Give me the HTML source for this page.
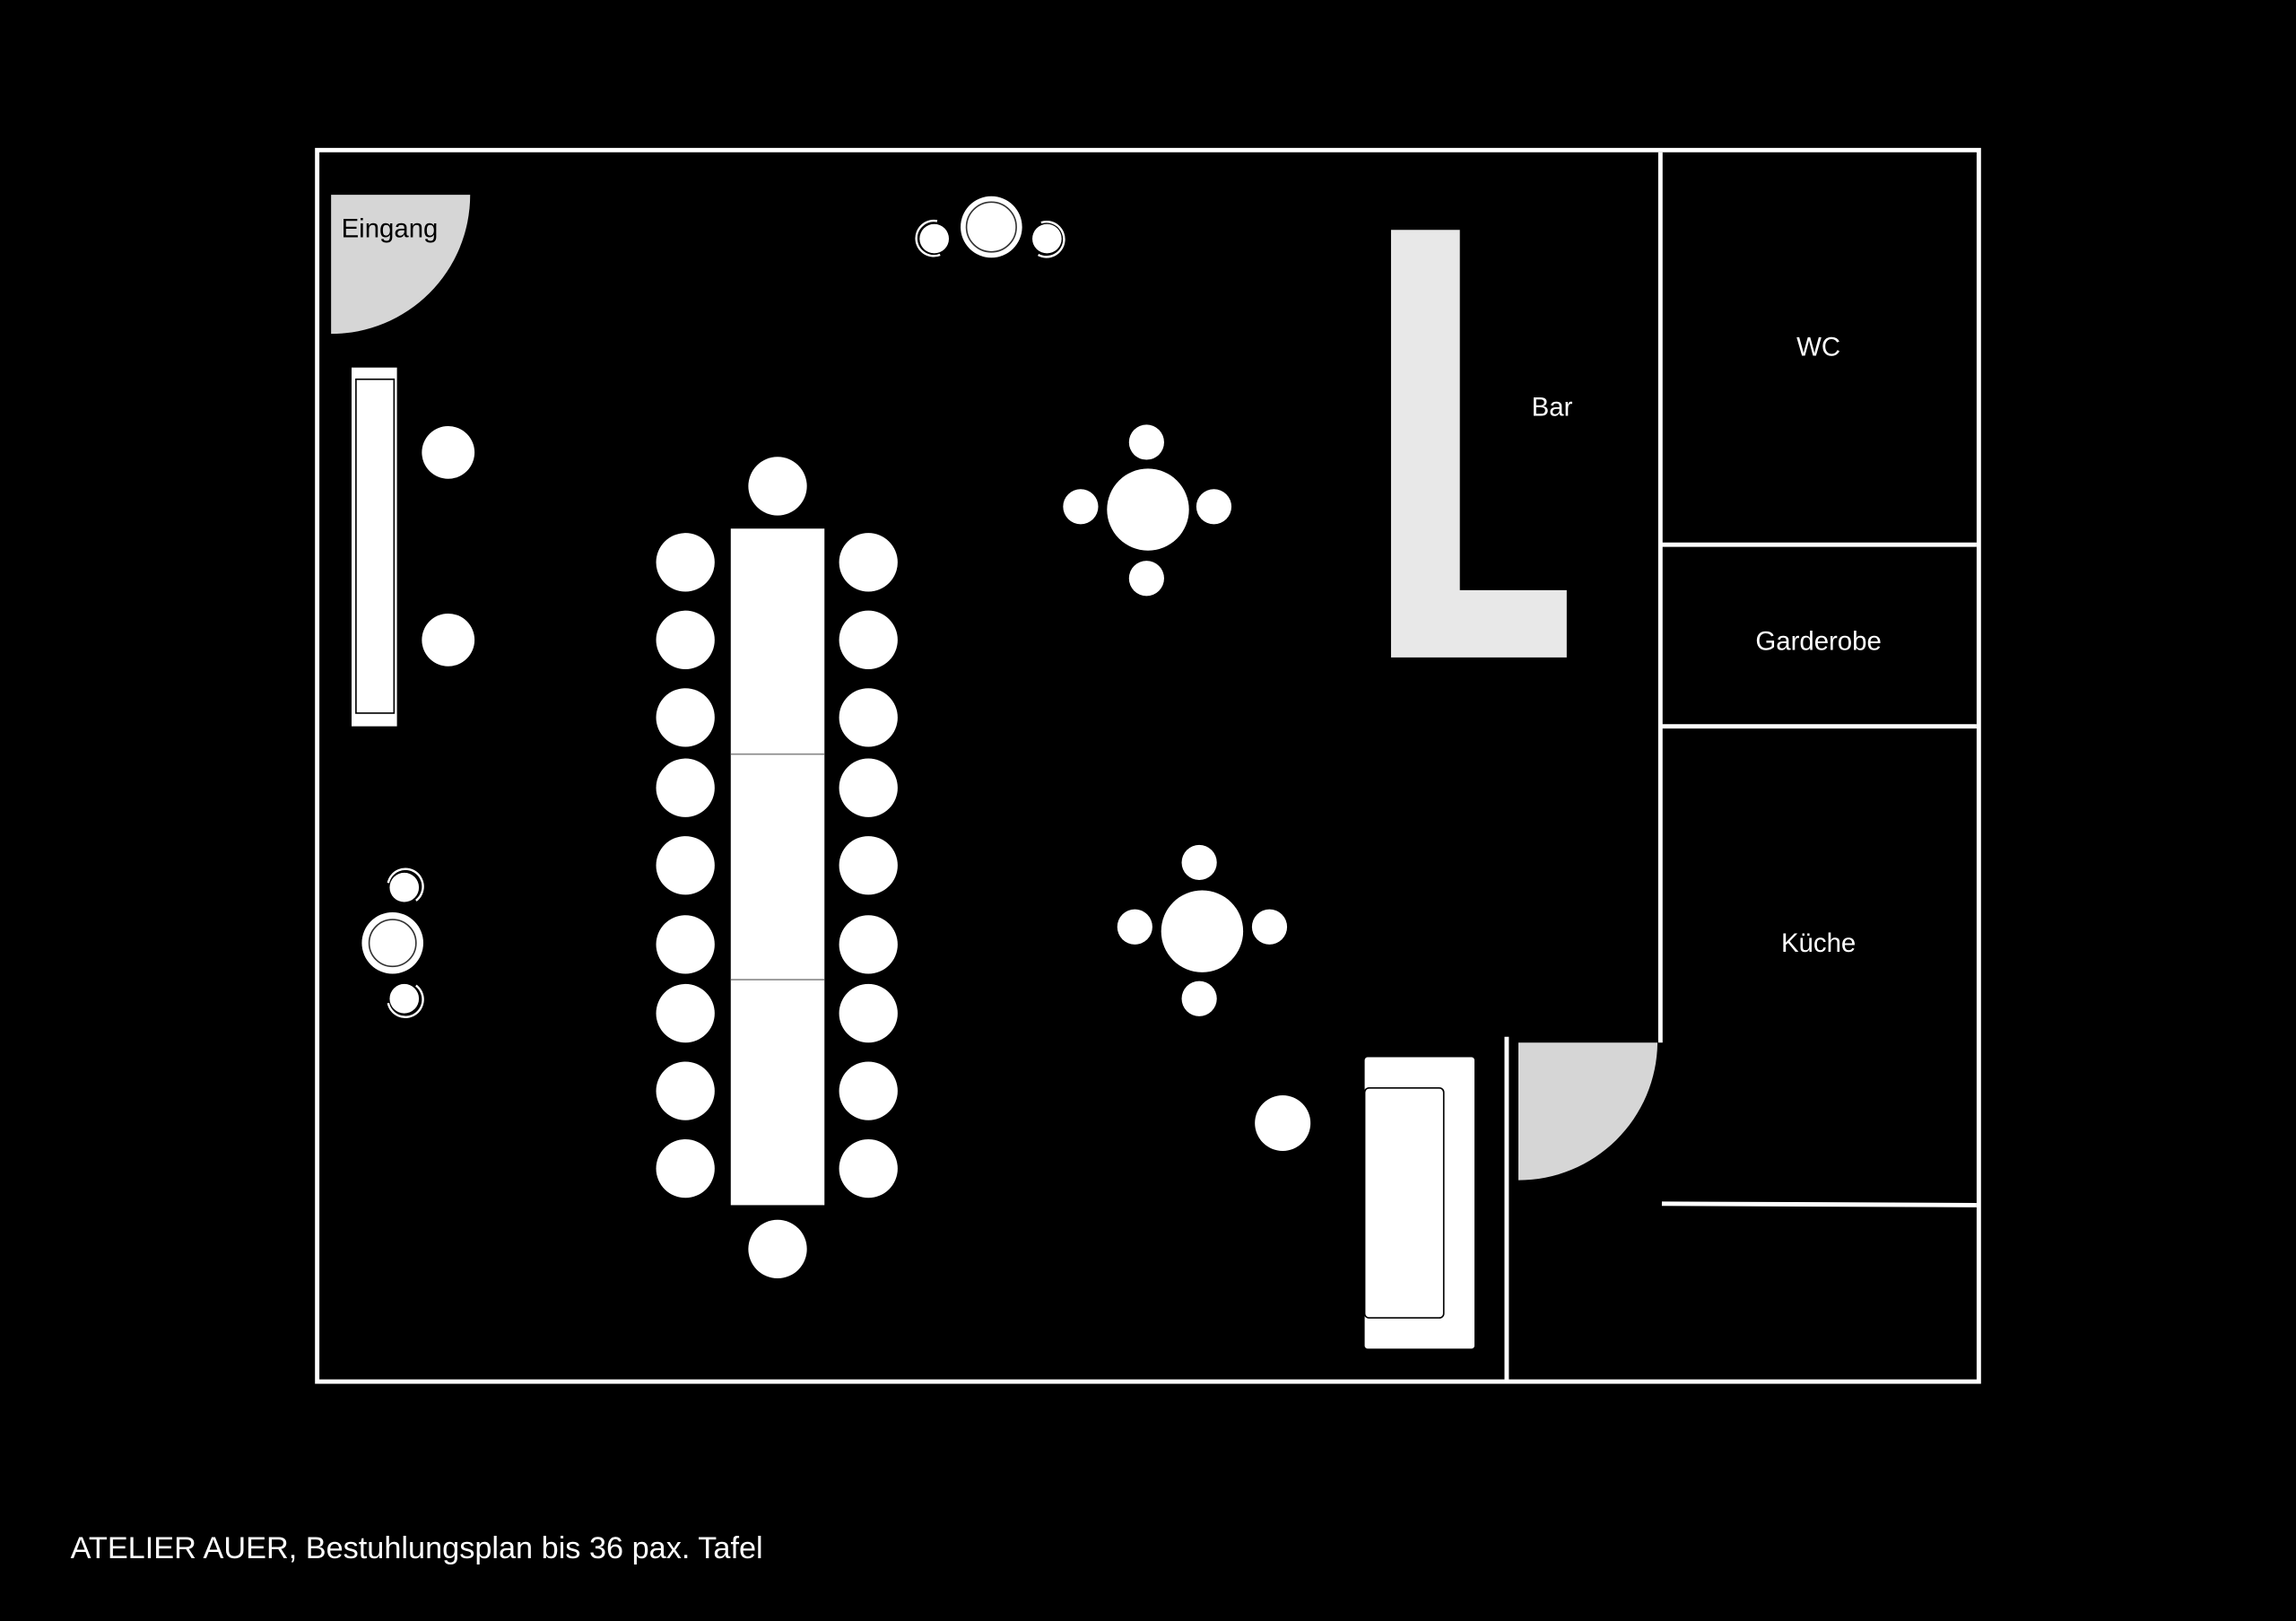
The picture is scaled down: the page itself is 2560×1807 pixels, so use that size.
<!DOCTYPE html>
<html><head><meta charset="utf-8"><style>
html,body{margin:0;padding:0;background:#000;width:2560px;height:1807px;overflow:hidden}
svg{display:block}
text{font-family:"Liberation Sans",sans-serif}
</style></head><body>
<svg width="2560" height="1807" viewBox="0 0 1568 1107" xmlns="http://www.w3.org/2000/svg">
<rect width="1568" height="1107" fill="#000"/>
<rect x="216.5" y="102.5" width="1135" height="841" fill="none" stroke="#fff" stroke-width="3"/>
<g stroke="#fff" stroke-width="3">
<line x1="1134" y1="104" x2="1134" y2="712"/>
<line x1="1135" y1="372" x2="1350" y2="372"/>
<line x1="1135" y1="496" x2="1350" y2="496"/>
<line x1="1135" y1="822" x2="1350" y2="823"/>
<line x1="1029" y1="708" x2="1029" y2="943"/>
</g>
<path d="M226,133 H321 A95,95 0 0 1 226,228 Z" fill="#d6d6d6"/>
<text x="233" y="162" font-size="18" fill="#000">Eingang</text>
<path d="M1037,712 H1132 A95,95 0 0 1 1037,806 Z" fill="#d6d6d6"/>
<rect x="240" y="251" width="31" height="245" fill="#fff"/>
<rect x="243" y="259" width="26" height="228" fill="none" stroke="#000" stroke-width="1"/>
<g fill="#fff">
<circle cx="306" cy="309" r="18"/><circle cx="306" cy="437" r="18"/>
<rect x="499" y="361" width="64" height="462"/>
<circle cx="531" cy="332" r="20"/><circle cx="531" cy="853" r="20"/>
<g id="c">
<circle cx="468" cy="384" r="20"/><circle cx="468" cy="437" r="20"/><circle cx="468" cy="490" r="20"/>
<circle cx="468" cy="538" r="20"/><circle cx="468" cy="591" r="20"/><circle cx="468" cy="645" r="20"/>
<circle cx="468" cy="692" r="20"/><circle cx="468" cy="745" r="20"/><circle cx="468" cy="798" r="20"/>
</g>
<use href="#c" x="125"/>
<circle cx="784" cy="348" r="28"/><circle cx="783" cy="302" r="12"/><circle cx="783" cy="395" r="12"/><circle cx="738" cy="346" r="12"/><circle cx="829" cy="346" r="12"/>
<circle cx="821" cy="636" r="28"/><circle cx="819" cy="589" r="12"/><circle cx="819" cy="682" r="12"/><circle cx="775" cy="633" r="12"/><circle cx="867" cy="633" r="12"/>
<circle cx="876" cy="767" r="19"/>
<rect x="932" y="722" width="75" height="199" rx="2"/>
<circle cx="677" cy="155" r="21"/><circle cx="638" cy="163" r="10"/><circle cx="715" cy="163" r="10"/>
<circle cx="268" cy="644" r="21"/><circle cx="276" cy="606" r="10"/><circle cx="276" cy="682" r="10"/>
</g>
<line x1="499" y1="515" x2="563" y2="515" stroke="#888" stroke-width="1"/>
<line x1="499" y1="669" x2="563" y2="669" stroke="#888" stroke-width="1"/>
<rect x="932" y="743" width="54" height="157" rx="3" fill="none" stroke="#000" stroke-width="1"/>
<g fill="none" stroke="#333" stroke-width="1">
<circle cx="677" cy="155" r="17"/><circle cx="268" cy="644" r="16"/>
</g>
<g fill="none" stroke="#fff" stroke-width="1.5">
<path d="M642,174 A12,12 0 1 1 640,151"/>
<path d="M711,152 A12,12 0 1 1 709,174"/>
<path d="M265,603 A12,12 0 1 1 284,615"/>
<path d="M265,685 A12,12 0 1 0 284,673"/>
</g>
<polygon points="950,157 997,157 997,403 1070,403 1070,449 950,449" fill="#e8e8e8"/>
<g fill="#fff" font-size="18" text-anchor="middle">
<text x="1060" y="284">Bar</text>
<text x="1242" y="243">WC</text>
<text x="1242" y="444">Garderobe</text>
<text x="1242" y="650">Küche</text>
</g>
<text x="48" y="1064" font-size="21" fill="#fff">ATELIER AUER, Bestuhlungsplan bis 36 pax. Tafel</text>
</svg>
</body></html>
